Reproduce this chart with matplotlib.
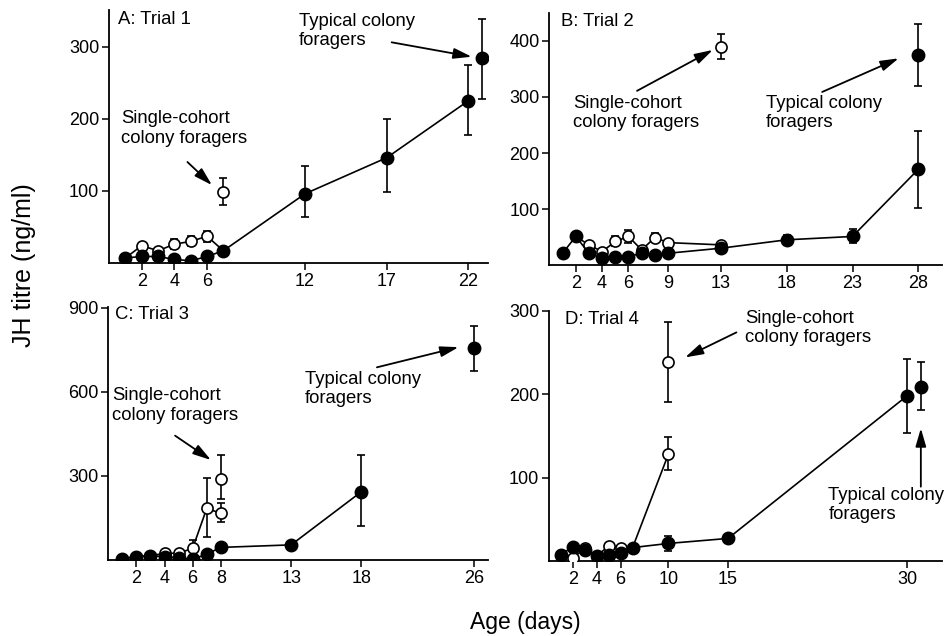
import matplotlib
matplotlib.use("Agg")
import matplotlib.pyplot as plt

plt.rcParams['font.family'] = ['Liberation Sans', 'DejaVu Sans']

# ---------------- Data ----------------
# Panel A: Trial 1
a_filled_days = [1, 2, 3, 4, 5, 6, 7, 12, 17, 22]
a_filled_vals = [7, 9, 9, 5, 3, 9, 17, 96, 146, 225]
a_filled_lo = [0, 0, 0, 0, 0, 0, 0, 32, 47, 47]
a_filled_hi = [0, 0, 0, 0, 0, 0, 0, 38, 53, 50]
a_open_days = [1, 2, 3, 4, 5, 6, 7]
a_open_vals = [7, 24, 17, 26, 30, 37, 17]
a_open_lo = [0, 0, 0, 6, 6, 8, 0]
a_open_hi = [0, 0, 0, 7, 7, 8, 0]
a_single = (7, 98, 17, 20)
a_typical = (22.8, 284, 56, 55)
a_xticks = [2, 4, 6, 12, 17, 22]
a_yticks = [100, 200, 300]

# Panel B: Trial 2
b_filled_days = [1, 2, 3, 4, 5, 6, 7, 8, 9, 13, 18, 23, 28]
b_filled_vals = [21, 51, 21, 12, 14, 15, 21, 17, 21, 30, 45, 51, 171]
b_filled_lo = [0, 8, 0, 0, 0, 0, 0, 0, 0, 0, 7, 12, 70]
b_filled_hi = [0, 8, 0, 0, 0, 0, 0, 0, 0, 0, 9, 14, 68]
b_open_days = [2, 3, 4, 5, 6, 7, 8, 9, 13]
b_open_vals = [51, 36, 24, 42, 51, 27, 49, 40, 36]
b_open_lo = [0, 0, 0, 8, 11, 0, 8, 0, 0]
b_open_hi = [0, 0, 0, 9, 12, 0, 9, 0, 0]
b_single = (13, 390, 23, 22)
b_typical = (28, 375, 56, 56)
b_xticks = [2, 4, 6, 9, 13, 18, 23, 28]
b_yticks = [100, 200, 300, 400]

# Panel C: Trial 3
c_filled_days = [1, 2, 3, 4, 5, 6, 7, 8, 13, 18]
c_filled_vals = [5, 12, 15, 12, 8, 2, 21, 45, 54, 244]
c_filled_lo = [0, 0, 0, 0, 0, 0, 0, 0, 0, 123]
c_filled_hi = [0, 0, 0, 0, 0, 0, 0, 0, 0, 130]
c_open_days = [1, 2, 3, 4, 5, 6, 7, 8]
c_open_vals = [5, 12, 15, 24, 24, 42, 184, 167]
c_open_lo = [0, 0, 0, 0, 0, 0, 101, 32]
c_open_hi = [0, 0, 0, 0, 0, 29, 108, 35]
c_single = (8, 290, 73, 85)
c_typical = (26, 756, 80, 80)
c_xticks = [2, 4, 6, 8, 13, 18, 26]
c_yticks = [300, 600, 900]

# Panel D: Trial 4
d_filled_days = [1, 2, 3, 4, 5, 6, 7, 10, 15, 30]
d_filled_vals = [7.6, 17, 13, 6, 7.6, 9, 16, 21, 27, 198]
d_filled_lo = [0, 0, 0, 0, 0, 0, 0, 9, 0, 45]
d_filled_hi = [0, 0, 0, 0, 0, 0, 0, 9, 0, 44]
d_open_days = [1, 2, 3, 4, 5, 6, 7, 10]
d_open_vals = [7.6, 3, 16, 6, 18, 16, 16, 128]
d_open_lo = [0, 0, 0, 0, 0, 0, 0, 19]
d_open_hi = [0, 0, 0, 0, 0, 0, 0, 20]
d_single = (10, 238, 48, 49)
d_typical = (31.15, 209, 28, 29)
d_xticks = [2, 4, 6, 10, 15, 30]
d_yticks = [100, 200, 300]

FS = 13.3
TFS = 13
LS = 1.2

fig = plt.figure(figsize=(9.44, 6.36), dpi=100)


def make_ax(rect, xlim, ylim, xticks, yticks):
    ax = fig.add_axes(rect)
    ax.set_xlim(*xlim)
    ax.set_ylim(*ylim)
    ax.set_xticks(xticks)
    ax.set_yticks(yticks)
    for s in ('top', 'right'):
        ax.spines[s].set_visible(False)
    for s in ('left', 'bottom'):
        ax.spines[s].set_linewidth(1.3)
    ax.tick_params(direction='out', length=5, width=1.1, labelsize=TFS, pad=2)
    return ax


def draw_series(ax, fd, fv, flo, fhi, od, ov, olo, ohi, single, typical):
    ekw = dict(ecolor='black', elinewidth=1.2, capsize=3, capthick=1.2)
    ax.errorbar(od, ov, yerr=[olo, ohi], fmt='-o', color='black', lw=1.2,
                ms=8, mfc='white', mec='black', mew=1.2, zorder=3, **ekw)
    ax.errorbar(fd, fv, yerr=[flo, fhi], fmt='-o', color='black', lw=1.2,
                ms=9, mfc='black', mec='black', zorder=4, **ekw)
    ax.errorbar([single[0]], [single[1]], yerr=[[single[2]], [single[3]]],
                fmt='o', ms=8, mfc='white', mec='black', mew=1.2, zorder=3, **ekw)
    ax.errorbar([typical[0]], [typical[1]], yerr=[[typical[2]], [typical[3]]],
                fmt='o', ms=9, mfc='black', mec='black', zorder=4, **ekw)


def arrow(ax, start, end):
    ax.annotate('', xy=end, xytext=start,
                arrowprops=dict(arrowstyle='-|>,head_length=1.1,head_width=0.32',
                                color='black', lw=1.3, shrinkA=0, shrinkB=0))


def label(ax, x, y, s):
    ax.text(x, y, s, fontsize=FS, va='top', ha='left', linespacing=LS)


# Panel A
axA = make_ax([0.1155, 0.5865, 0.4015, 0.398], (0, 23.2), (0, 351), a_xticks, a_yticks)
draw_series(axA, a_filled_days, a_filled_vals, a_filled_lo, a_filled_hi,
            a_open_days, a_open_vals, a_open_lo, a_open_hi, a_single, a_typical)
label(axA, 0.55, 349, 'A: Trial 1')
label(axA, 11.6, 347, 'Typical colony\nforagers')
arrow(axA, (17.3, 306), (22.2, 286))
label(axA, 0.75, 212, 'Single-cohort\ncolony foragers')
arrow(axA, (4.8, 140), (6.3, 108))

# Panel B
axB = make_ax([0.582, 0.5833, 0.416, 0.3963], (0, 29.8), (0, 450), b_xticks, b_yticks)
draw_series(axB, b_filled_days, b_filled_vals, b_filled_lo, b_filled_hi,
            b_open_days, b_open_vals, b_open_lo, b_open_hi, b_single, b_typical)
label(axB, 0.85, 450, 'B: Trial 2')
label(axB, 1.8, 304, 'Single-cohort\ncolony foragers')
arrow(axB, (6.65, 311), (12.4, 384))
label(axB, 16.4, 304, 'Typical colony\nforagers')
arrow(axB, (20.7, 309), (26.5, 369))

# Panel C
axC = make_ax([0.1147, 0.1195, 0.4023, 0.3985], (0, 27), (0, 905), c_xticks, c_yticks)
draw_series(axC, c_filled_days, c_filled_vals, c_filled_lo, c_filled_hi,
            c_open_days, c_open_vals, c_open_lo, c_open_hi, c_single, c_typical)
label(axC, 0.5, 907, 'C: Trial 3')
label(axC, 14.0, 676, 'Typical colony\nforagers')
arrow(axC, (19.1, 688), (24.9, 760))
label(axC, 0.25, 616, 'Single-cohort\ncolony foragers')
arrow(axC, (4.75, 444), (7.3, 357))

# Panel D
axD = make_ax([0.5816, 0.118, 0.416, 0.3935], (0, 32.9), (0, 300), d_xticks, d_yticks)
draw_series(axD, d_filled_days, d_filled_vals, d_filled_lo, d_filled_hi,
            d_open_days, d_open_vals, d_open_lo, d_open_hi, d_single, d_typical)
label(axD, 1.3, 300, 'D: Trial 4')
label(axD, 16.4, 301, 'Single-cohort\ncolony foragers')
arrow(axD, (15.7, 274), (11.4, 244))
label(axD, 23.4, 89, 'Typical colony\nforagers')
arrow(axD, (31.15, 89), (31.15, 159))

fig.text(0.025, 0.583, 'JH titre (ng/ml)', rotation=90, fontsize=18, ha='center', va='center')
fig.text(0.556, 0.022, 'Age (days)', fontsize=16.5, ha='center', va='center')

fig.savefig('out.png', dpi=100)
